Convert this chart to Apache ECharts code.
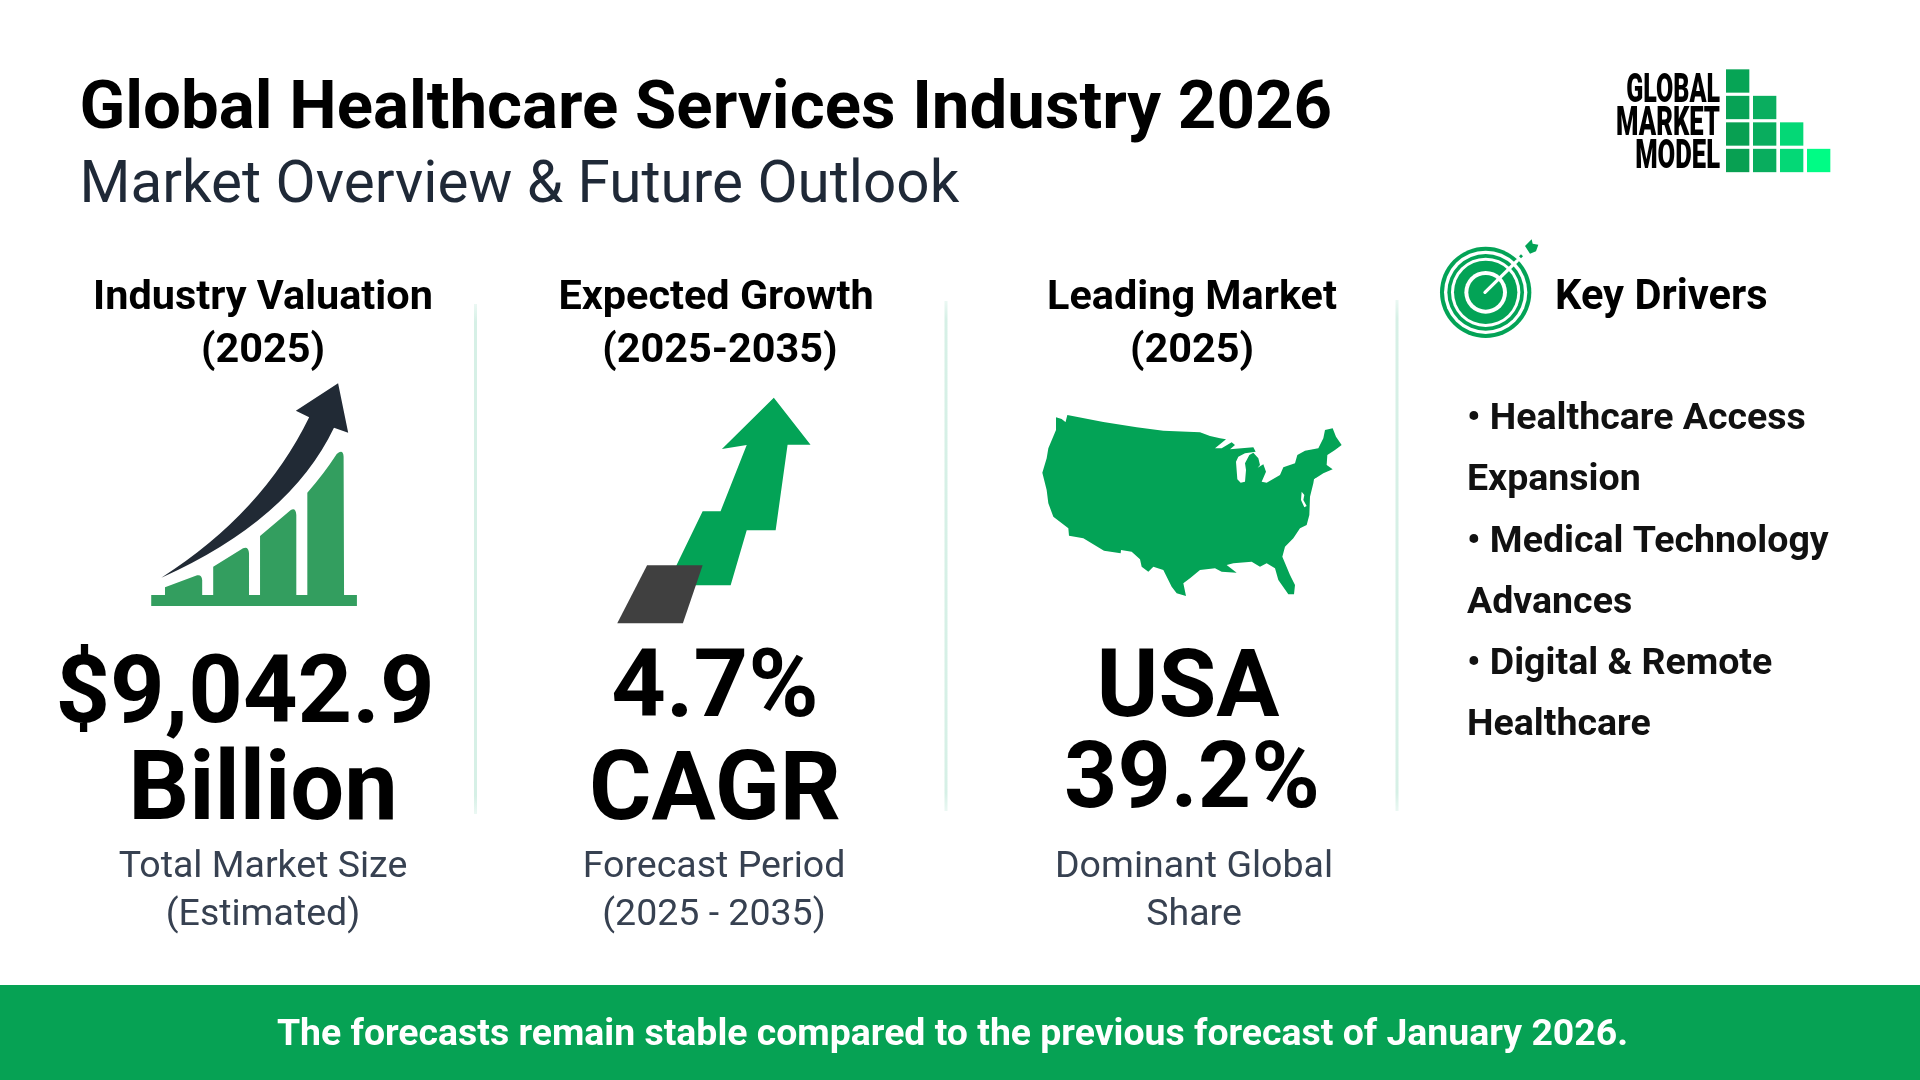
<!DOCTYPE html>
<html>
<head>
<meta charset="utf-8">
<title>Global Healthcare Services Industry 2026</title>
<script src="https://cdn.jsdelivr.net/npm/echarts@6/dist/echarts.min.js"></script>
<style>
  html, body { margin: 0; padding: 0; background: #fff; }
  #main { width: 1920px; height: 1080px; }
</style>
</head>
<body>
<div id="main"></div>
<script>
// page text
const title = "Global Healthcare Services Industry 2026";
const subtitle = "Market Overview & Future Outlook";
const footerNote = "The forecasts remain stable compared to the previous forecast of January 2026.";
const kpiHeads = [["Industry Valuation", "(2025)"], ["Expected Growth", "(2025-2035)"], ["Leading Market", "(2025)"]];
const kpiValues = [["$9,042.9", "Billion"], ["4.7%", "CAGR"], ["USA", "39.2%"]];
const kpiNotes = [["Total Market Size", "(Estimated)"], ["Forecast Period", "(2025 - 2035)"], ["Dominant Global", "Share"]];
const driversHead = "Key Drivers";
const driverLines = ["• Healthcare Access", "Expansion", "• Medical Technology", "Advances", "• Digital & Remote", "Healthcare"];
const logoWords = ["GLOBAL", "MARKET", "MODEL"];
const logoColumns = [4, 3, 2, 1];

const GREEN = "#03a356";
const FONT = "Roboto";

// text placement per column
const headX = [[263, 263], [716, 720], [1192, 1192]];
const valueX = [[245, 263], [715, 715], [1188, 1192]];
const valueY = [[698, 795], [692, 795], [692, 784]];
const valueSize = [[95.3, 95.5], [95.3, 95.5], [94, 93]];
const noteX = [[263, 263], [714, 714], [1194, 1194]];
// divider x, top, bottom
const dividers = [[475.5, 304, 814], [946, 301, 811], [1397, 300, 811]];

function txt(text, x, y, font, fill, align) {
  return { type: "text", silent: true, x: x, y: y,
    style: { text: text, font: font, fill: fill, align: align || "center", verticalAlign: "middle" } };
}

const elements = [];
elements.push({ type: "rect", shape: { x: 0, y: 985, width: 1920, height: 95 }, style: { fill: "#06a254" }, silent: true });
elements.push(txt(title, 79.5, 111, "bold 67.2px " + FONT, "#000", "left"));
elements.push(txt(subtitle, 79.5, 187, "400 58.4px " + FONT, "#1f2937", "left"));
elements.push(txt(footerNote, 952.5, 1036, "bold 37.4px " + FONT, "#fff"));

dividers.forEach(d => {
  elements.push({ type: "line", silent: true, shape: { x1: d[0], y1: d[1], x2: d[0], y2: d[2] },
    style: { lineWidth: 3, stroke: new echarts.graphic.LinearGradient(0, 0, 0, 1, [
      { offset: 0, color: "#eef9f5" }, { offset: 0.04, color: "#d6f0e6" },
      { offset: 0.96, color: "#d6f0e6" }, { offset: 1, color: "#eef9f5" }], false) } });
});

kpiHeads.forEach((lines, i) => {
  lines.forEach((s, j) => elements.push(txt(s, headX[i][j], j ? 352 : 299, "bold 41.4px " + FONT, "#000")));
});
kpiValues.forEach((lines, i) => {
  lines.forEach((s, j) => elements.push(txt(s, valueX[i][j], valueY[i][j], "bold " + valueSize[i][j] + "px " + FONT, "#000")));
});
kpiNotes.forEach((lines, i) => {
  lines.forEach((s, j) => elements.push(txt(s, noteX[i][j], j ? 916 : 868, "400 37.5px " + FONT, "#374151")));
});

elements.push(txt(driversHead, 1555, 299, "bold 41.6px " + FONT, "#000", "left"));
driverLines.forEach((s, i) => {
  elements.push(txt(s, 1467, 420 + i * 61.1, "bold 37.5px " + FONT, "#111", "left"));
});

// logo words are squeezed to the condensed width of the original mark
const logoScale = [0.625, 0.64, 0.64];
logoWords.forEach((s, i) => {
  elements.push({ type: "text", silent: true, x: 1720, y: 91.5 + i * 33, scaleX: logoScale[i],
    style: { text: s, font: "900 40px " + FONT, fill: "#000", align: "right", verticalAlign: "middle" } });
});

// Icons are traced by hand, each in its own crop coordinates
const growthBars = "M98 705L98 682L168 646Q178 643 179 660L179 705Z M203 705L203 620L268 565Q280 558 281 580L281 705Z M305 705L305 528L372 450Q383 442 384 465L384 705Z M408 705L408 398Q445 340 472 282Q486 265 487 290L488 705Z M68 705L516 705L516 738L68 738Z";
const growthArrow = "M90 653Q310 460 412 172L383 152L475 70L497 218L466 203Q370 480 90 653Z";
const stepArrow = "M1424 113L1504 254L1454 254L1428 511L1365 511L1330 676L1200 676L1212 616L1269 454L1308 454L1365 255L1311 267Z";
const stepBase = "M1148 616L1269 616L1226 790L1083 790Z";
const usaOutline = "M108 52L125 57L137 67L133 80L142 45L250 66L350 82L430 92L540 97L570 108L600 115L618 118L585 145L605 145L635 127L645 135L630 148L665 145L700 142L707 155L675 160L655 170L648 185L652 238L662 248L675 245L678 210L675 190L688 165L700 158L715 175L720 195L713 203L730 193L738 215L725 245L740 248L780 225L790 202L825 190L832 165L855 152L895 145L910 115L915 90L938 85L948 110L965 135L945 150L922 165L920 195L938 208L910 220L882 238L880 250L870 290L868 345L860 375L840 385L820 415L795 440L787 470L810 525L825 555L822 583L805 583L775 540L765 505L740 490L720 500L695 485L640 490L620 495L650 518L605 515L585 505L540 510L510 535L490 550L498 588L470 580L455 560L430 510L400 500L385 515L365 500L360 478L335 455L303 450L302 460L252 452L190 415L147 407L145 385L100 350L85 310L80 270L67 218L80 175L85 145L108 90Z";
const usaBays = "M845 275L853 285L850 300L860 318L853 322L843 300Z M882 238L905 228L912 229L885 242Z";

function traced(x, y, sx, sy, children) {
  return { type: "group", x: x, y: y, scaleX: sx, scaleY: sy, silent: true, children: children };
}
function pathEl(d, fill) {
  return { type: "path", shape: { pathData: d }, style: { fill: fill } };
}

function logoSquares() {
  const fills = [["#06a455", "#07a255", "#08a052", "#08a052"], ["#0aae5f", "#09ad5e", "#09ad5e"], ["#04d876", "#04d876"], ["#00fc85"]];
  const out = [];
  logoColumns.forEach((n, c) => {
    for (let k = 0; k < n; k++) {
      out.push({ type: "rect", shape: { x: 918 + c * 81, y: 58 + (4 - n + k) * 79.5, width: 70, height: 70 },
        style: { fill: fills[c][k] } });
    }
  });
  return out;
}

function targetIcon() {
  const cx = 197, cy = 727;
  const discs = [[137, GREEN], [125, "#fff"], [115, GREEN], [104, "#fff"], [95, GREEN], [64, "#fff"], [52, GREEN]];
  const out = discs.map(d => ({ type: "circle", shape: { cx: cx, cy: cy, r: d[0] }, style: { fill: d[1] } }));
  out.push({ type: "line", shape: { x1: 195, y1: 727, x2: 292, y2: 632 }, style: { stroke: "#fff", lineWidth: 10, lineCap: "round" } });
  out.push(pathEl("M303 613L309 619L303 625L297 619Z", GREEN));
  out.push(pathEl("M315 588L335 568L338 581L355 584L348 604L330 611Z", GREEN));
  return out;
}

const option = {
  animation: false,
  graphic: { elements: elements },
  xAxis: { show: false },
  yAxis: { show: false },
  series: [{
    type: "custom",
    coordinateSystem: "none",
    silent: true,
    data: [0],
    renderItem: function () {
      return { type: "group", children: [
        // this crop is stretched: 2.178x across, 3x down
        traced(120, 360, 1 / 2.178, 1 / 3, [
          pathEl(growthBars, "#339e5f"),
          pathEl(growthArrow, "#212a35"),
          pathEl(stepArrow, GREEN),
          pathEl(stepBase, "#404040")
        ]),
        traced(1020, 400, 1 / 3, 1 / 3, [pathEl(usaOutline, GREEN), pathEl(usaBays, "#fff")]),
        traced(1420, 50, 1 / 3, 1 / 3, logoSquares().concat(targetIcon()))
      ] };
    }
  }]
};

const chart = echarts.init(document.getElementById("main"), null, { renderer: "canvas" });
chart.setOption(option);
</script>
</body>
</html>
